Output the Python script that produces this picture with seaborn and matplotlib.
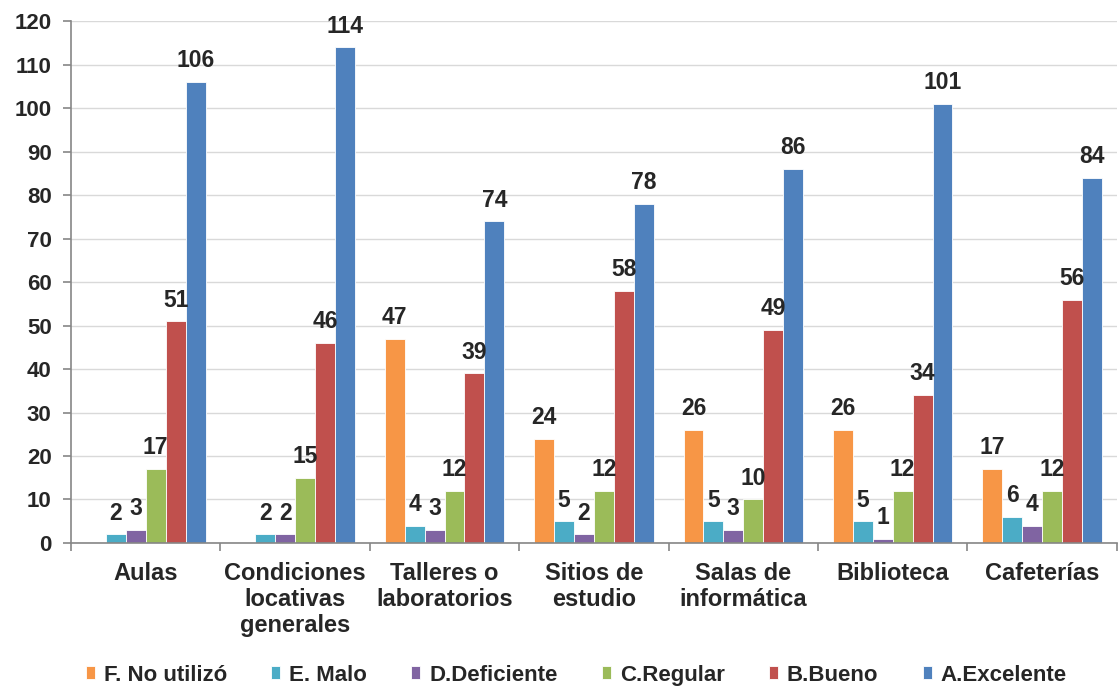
import numpy as np
import pandas as pd
import seaborn as sns
import matplotlib.pyplot as plt

# datos
categorias = ['Aulas', 'Condiciones\nlocativas\ngenerales', 'Talleres o\nlaboratorios',
              'Sitios de\nestudio', 'Salas de\ninformática', 'Biblioteca', 'Cafeterías']
series = ['F. No utilizó', 'E. Malo', 'D.Deficiente', 'C.Regular', 'B.Bueno', 'A.Excelente']
no_utilizo = [0, 0, 47, 24, 26, 26, 17]
malo = [2, 2, 4, 5, 5, 5, 6]
deficiente = [3, 2, 3, 2, 3, 1, 4]
regular = [17, 15, 12, 12, 10, 12, 12]
bueno = [51, 46, 39, 58, 49, 34, 56]
excelente = [106, 114, 74, 78, 86, 101, 84]
colores = ['#F79646', '#4BACC6', '#8064A2', '#9BBB59', '#C0504D', '#4F81BD']

valores = [no_utilizo, malo, deficiente, regular, bueno, excelente]
df = pd.DataFrame({
    'categoria': np.tile(categorias, len(series)),
    'serie': np.repeat(series, len(categorias)),
    'valor': np.concatenate(valores),
})

sns.set_style('white')
plt.rcParams['font.family'] = ['Liberation Sans', 'DejaVu Sans']
plt.rcParams['font.weight'] = 'bold'

fig = plt.figure(figsize=(11.19, 6.86), dpi=100)
ax = fig.add_axes([0.0635, 0.2085, 0.9345, 0.7605])

sns.barplot(data=df, x='categoria', y='valor', hue='serie', palette=colores,
            order=categorias, hue_order=series, errorbar=None, width=0.8,
            saturation=1, edgecolor='white', linewidth=0.6, ax=ax)

# etiquetas de datos (sin etiqueta para ceros)
for cont in ax.containers:
    etiquetas = ['' if v == 0 else f'{v:g}' for v in cont.datavalues]
    ax.bar_label(cont, labels=etiquetas, padding=7, fontsize=16.5, fontweight='bold')

ax.set_ylim(0, 120)
ax.set_yticks(range(0, 121, 10))
ax.set_xlim(-0.5, 6.5)
ax.yaxis.grid(True, color='#D9D9D9', linewidth=1)
ax.set_axisbelow(True)

for lado in ['top', 'right']:
    ax.spines[lado].set_visible(False)
for lado in ['left', 'bottom']:
    ax.spines[lado].set_color('#868686')
    ax.spines[lado].set_linewidth(1.2)

ax.set_xlabel('')
ax.set_ylabel('')
ax.tick_params(axis='y', which='major', left=True, length=6, color='#868686',
               width=1.2, labelsize=16, pad=8)
ax.set_xticks(np.arange(-0.5, 7, 1), minor=True)
ax.tick_params(axis='x', which='minor', bottom=True, length=6, color='#868686', width=1.2)
ax.tick_params(axis='x', which='major', length=0, labelsize=17, pad=14)
for t in ax.get_xticklabels():
    t.set_linespacing(1.15)
for t in ax.get_xticklabels() + ax.get_yticklabels():
    t.set_fontweight('bold')

handles, labels = ax.get_legend_handles_labels()
ax.legend(handles, labels, loc='center', bbox_to_anchor=(0.515, 0.016),
          bbox_transform=fig.transFigure, ncol=6, frameon=False,
          prop={'size': 16, 'weight': 'bold'}, handlelength=0.4, handleheight=0.55,
          handletextpad=0.4, columnspacing=2.0)

fig.savefig('out.png', dpi=100)
